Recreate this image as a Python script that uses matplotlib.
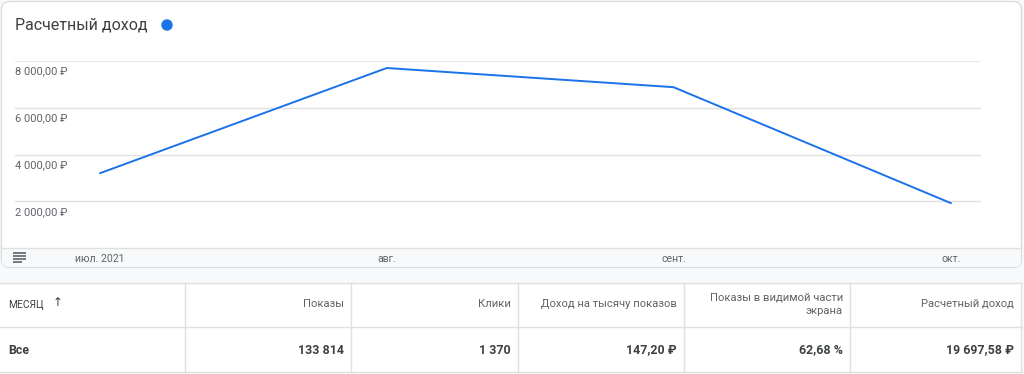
import matplotlib
matplotlib.use("Agg")
import matplotlib.pyplot as plt
import matplotlib.dates as mdates
from matplotlib.patches import FancyBboxPatch, Rectangle, Circle
from matplotlib.transforms import blended_transform_factory, offset_copy
import datetime as dt

plt.rcParams['font.family'] = ['Roboto', 'DejaVu Sans']

# ---- data ----
months = ['2021-07-01', '2021-08-01', '2021-09-01', '2021-10-01']
revenue = [3200, 7700, 6880, 1918]
month_labels = ['июл. 2021', 'авг.', 'сент.', 'окт.']
ytick_values = [2000, 4000, 6000, 8000]
ytick_labels = ['2 000,00 ₽', '4 000,00 ₽', '6 000,00 ₽', '8 000,00 ₽']
title = 'Расчетный доход'
table_headers = ['МЕСЯЦ', 'Показы', 'Клики', 'Доход на тысячу показов',
                 'Показы в видимой части\nэкрана', 'Расчетный доход']
table_row = ['Все', '133 814', '1 370', '147,20 ₽', '62,68 %', '19 697,58 ₽']

W, H = 1024, 374
fig = plt.figure(figsize=(W / 100, H / 100), dpi=100)
fig.patch.set_facecolor('#f8f9fa')

# background / decoration axes in pixel coordinates
bg = fig.add_axes([0, 0, 1, 1], zorder=0)
bg.set_xlim(0, W)
bg.set_ylim(H, 0)
bg.axis('off')

grid_c = '#e0e0e0'
border_c = '#dadce0'
text_c = '#5f6368'
dark_c = '#3c4043'
blue = '#1a73e8'

# chart card
card = FancyBboxPatch((1.5, 1.5), W - 4, 266, boxstyle='round,pad=0,rounding_size=8',
                      facecolor='white', edgecolor=border_c, linewidth=1)
bg.add_patch(card)
# bottom band of the card
band = FancyBboxPatch((2, 248), W - 5, 19, boxstyle='round,pad=0,rounding_size=6',
                      facecolor='#f8f9fa', edgecolor='none')
bg.add_patch(band)
bg.add_patch(Rectangle((2, 248), W - 5, 8, facecolor='#f8f9fa', edgecolor='none'))
bg.plot([2, W - 3], [248, 248], color=grid_c, lw=1)

# hamburger icon
for yy, x2 in [(253, 26), (256, 26), (259, 26), (262, 22)]:
    bg.plot([13, x2], [yy, yy], color='#5f6368', lw=1.2, solid_capstyle='butt')

# title and dot
bg.text(15, 25, title, fontsize=11.5, color=dark_c, va='center', ha='left')
bg.add_patch(Circle((167, 25), 5, color=blue))

# table
tbl_top, tbl_mid, tbl_bot = 283, 327, 372
bg.add_patch(Rectangle((0, tbl_top), W - 2, tbl_bot - tbl_top, facecolor='white', edgecolor='none'))
for yy in (tbl_top, tbl_mid, tbl_bot):
    bg.plot([0, W - 2], [yy, yy], color=grid_c, lw=1)
col_edges = [0, 185, 351, 518, 684, 850, 1021]
for xx in col_edges[1:]:
    bg.plot([xx, xx], [tbl_top, tbl_bot], color=grid_c, lw=1)

for i, (hdr, val) in enumerate(zip(table_headers, table_row)):
    if i == 0:
        bg.text(8, 305, hdr, fontsize=7.4, color=dark_c, va='center', ha='left')
        bg.text(53, 303, '↑', fontsize=8.5, color=dark_c, va='center', ha='left',
                family=['DejaVu Sans'])
        bg.text(8, 350, val, fontsize=8.9, color=dark_c, va='center', ha='left',
                fontweight='bold')
    else:
        xr = col_edges[i + 1] - 7
        if '\n' in hdr:
            bg.text(xr, 304, hdr, fontsize=8.1, color=text_c, va='center', ha='right',
                    multialignment='right', linespacing=1.4)
        else:
            bg.text(xr, 304, hdr, fontsize=8.1, color=text_c, va='center', ha='right')
        bg.text(xr, 350, val, fontsize=8.9, color=dark_c, va='center', ha='right',
                fontweight='bold')

# chart axes
left_px, right_px, top_px, bot_px = 15, 981, 61, 248
ax = fig.add_axes([left_px / W, 1 - bot_px / H, (right_px - left_px) / W, (bot_px - top_px) / H],
                  zorder=2)
ax.patch.set_alpha(0)
dates = [mdates.date2num(dt.datetime.strptime(m, '%Y-%m-%d')) for m in months]
ppd = (951 - 100) / (dates[-1] - dates[0])
ax.set_xlim(dates[0] - (100 - left_px) / ppd, dates[-1] + (right_px - 951) / ppd)
ax.set_ylim(0, 8000)
for s in ax.spines.values():
    s.set_visible(False)
for v in ytick_values:
    ax.axhline(v, color=grid_c if v != 8000 else '#e8e8e8', lw=1 if v != 8000 else 1.6, zorder=1)
ax.plot(dates, revenue, color=blue, lw=1.4, zorder=3, solid_capstyle='round')
ax.set_yticks([])
ax.set_xticks(dates)
ax.set_xticklabels(month_labels, fontsize=7.6, color=text_c)
ax.tick_params(axis='x', length=0, pad=4.2)

trans = blended_transform_factory(ax.transAxes, ax.transData)
trans = offset_copy(trans, fig=fig, x=0, y=-5.5, units='dots')
for v, lab in zip(ytick_values, ytick_labels):
    ax.text(0, v, lab, transform=trans, fontsize=7.9, color=text_c, va='top', ha='left')

fig.savefig('out.png', dpi=100, facecolor=fig.get_facecolor())
